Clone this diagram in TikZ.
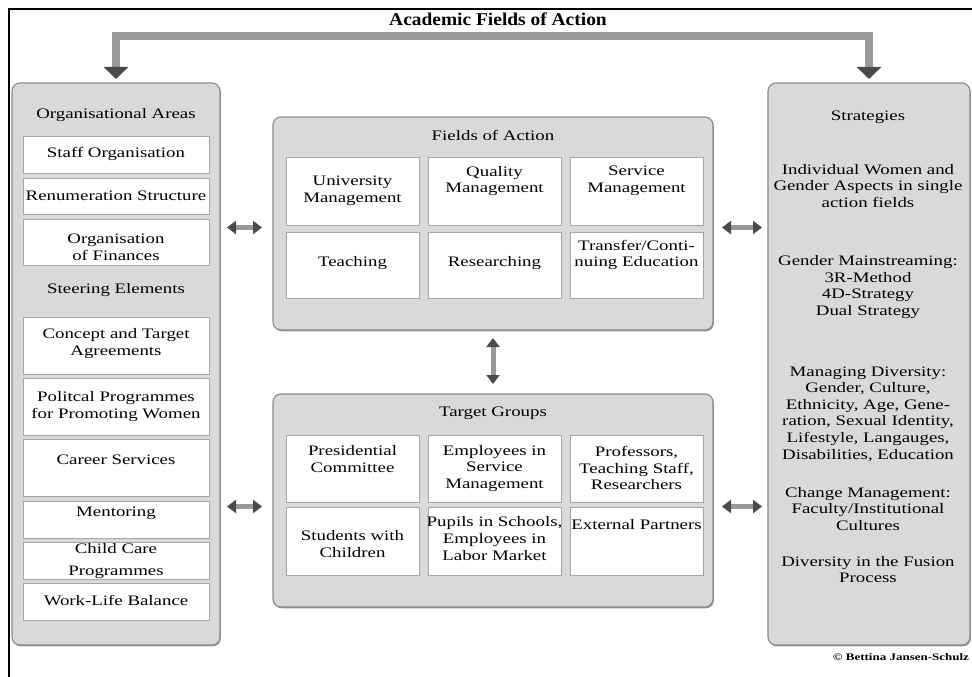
\documentclass[tikz,border=0pt]{standalone}
\usepackage{fontspec}
\setmainfont{Liberation Serif}[FakeStretch=1.3]
\newfontfamily\titlefont{Liberation Serif}[FakeStretch=1.08]
\usetikzlibrary{arrows.meta,shadows}
\definecolor{panelfill}{HTML}{D9D9D9}
\definecolor{paneldraw}{HTML}{8A8A8A}
\definecolor{boxdraw}{HTML}{A6A6A6}
\definecolor{shaft}{HTML}{999999}
\definecolor{head}{HTML}{4A4A4A}
\begin{document}
\begin{tikzpicture}[x=1pt,y=-1pt,
  every node/.style={inner sep=0pt, outer sep=0pt},
  txt/.style={font=\fontsize{14.5}{16.6}\selectfont, align=center, text=black},
  panel/.style={draw=paneldraw, fill=panelfill, rounded corners=8pt, line width=1.1pt, anchor=north west,
    drop shadow={shadow xshift=0.8pt, shadow yshift=-1.3pt, opacity=0.7, fill=black!60}},
  boxn/.style={draw=boxdraw, fill=white, line width=0.8pt, anchor=north west},
  dbl/.style={line width=5pt, draw=shaft,
    arrows={Triangle[width=13pt,length=9pt,color=head]-Triangle[width=13pt,length=9pt,color=head]}},
  bracket/.style={line width=8pt, draw=shaft, line join=miter,
    arrows={Triangle[width=24pt,length=12pt,color=head]-Triangle[width=24pt,length=12pt,color=head]}}]
\useasboundingbox (0,0) rectangle (972,677);
\fill[white] (0,0) rectangle (972,677);
\draw[line width=1.5pt] (9,677) -- (9,9) -- (972,9);

\node[font=\titlefont\bfseries\fontsize{18}{21}\selectfont] (title) at (498,19) {Academic Fields of Action};

% panels
\node[panel, minimum width=208pt, minimum height=562pt] (lp) at (12,83) {};
\node[panel, minimum width=202pt, minimum height=562pt] (rp) at (768,83) {};
\node[panel, minimum width=440pt, minimum height=213pt] (fa) at (273,117) {};
\node[panel, minimum width=440pt, minimum height=213pt] (tg) at (273,394) {};

% top bracket
\coordinate (barmid) at (493,36);
\draw[bracket] ([yshift=4pt]lp.north) |- (barmid) -| ([yshift=4pt]rp.north);

% left panel
\node[txt] (oa) at (116,115) {Organisational Areas};
\node[boxn, minimum width=186pt, minimum height=37pt] (b1) at (23,136) {};
\node[txt] (t1) at (116,154) {Staff Organisation};
\node[boxn, minimum width=186pt, minimum height=36pt] (b2) at (23,178) {};
\node[txt] (t2) at (116,196) {Renumeration Structure};
\node[boxn, minimum width=186pt, minimum height=46pt] (b3) at (23,219) {};
\node[txt] (t3) at (116,247.5) {Organisation\\of Finances};
\node[txt] (se) at (116,290) {Steering Elements};
\node[boxn, minimum width=186pt, minimum height=57pt] (b4) at (23,317) {};
\node[txt] (t4) at (116,343.5) {Concept and Target\\Agreements};
\node[boxn, minimum width=186pt, minimum height=57pt] (b5) at (23,378) {};
\node[txt] (t5) at (116,406.5) {Politcal Programmes\\for Promoting Women};
\node[boxn, minimum width=186pt, minimum height=57pt] (b6) at (23,439) {};
\node[txt] (t6) at (116,460) {Career Services};
\node[boxn, minimum width=186pt, minimum height=37pt] (b7) at (23,501) {};
\node[txt] (t7) at (116,513) {Mentoring};
\node[boxn, minimum width=186pt, minimum height=37pt] (b8) at (23,542) {};
\node[txt] (t8) at (116,561) {Child Care\\[5pt]Programmes};
\node[boxn, minimum width=186pt, minimum height=37pt] (b9) at (23,583) {};
\node[txt] (t9) at (116,600) {Work-Life Balance};

% fields of action
\node[txt] (fat) at (493,135) {Fields of Action};
\node[boxn, minimum width=133pt, minimum height=68pt] (f11) at (286,157) {};
\node[boxn, minimum width=133pt, minimum height=68pt] (f12) at (428,157) {};
\node[boxn, minimum width=133pt, minimum height=68pt] (f13) at (570,157) {};
\node[boxn, minimum width=133pt, minimum height=66pt] (f21) at (286,232) {};
\node[boxn, minimum width=133pt, minimum height=66pt] (f22) at (428,232) {};
\node[boxn, minimum width=133pt, minimum height=66pt] (f23) at (570,232) {};
\node[txt] (tf11) at (352.5,191) {University\\Management};
\node[txt] (tf12) at (494.5,181) {Quality\\Management};
\node[txt] (tf13) at (636.5,181) {Service\\Management};
\node[txt] (tf21) at (352.5,263) {Teaching};
\node[txt] (tf22) at (494.5,263) {Researching};
\node[txt] (tf23) at (636.5,255) {Transfer/Conti-\\nuing Education};

% target groups
\node[txt] (tgt) at (493,413) {Target Groups};
\node[boxn, minimum width=133pt, minimum height=67pt] (g11) at (286,435) {};
\node[boxn, minimum width=133pt, minimum height=67pt] (g12) at (428,435) {};
\node[boxn, minimum width=133pt, minimum height=67pt] (g13) at (570,435) {};
\node[boxn, minimum width=133pt, minimum height=68pt] (g21) at (286,507) {};
\node[boxn, minimum width=133pt, minimum height=68pt] (g22) at (428,507) {};
\node[boxn, minimum width=133pt, minimum height=68pt] (g23) at (570,507) {};
\node[txt] (tg11) at (352.5,459) {Presidential\\Committee};
\node[txt] (tg12) at (494.5,468.5) {Employees in\\Service\\Management};
\node[txt] (tg13) at (636.5,468) {Professors,\\Teaching Staff,\\Researchers};
\node[txt] (tg21) at (352.5,544) {Students with\\Children};
\node[txt] (tg22) at (494.5,538.5) {Pupils in Schools,\\Employees in\\Labor Market};
\node[txt] (tg23) at (636.5,525) {External Partners};

% strategies
\node[txt] (st) at (868,117) {Strategies};
\node[txt] (s1) at (868,186) {Individual Women and\\Gender Aspects in single\\action fields};
\node[txt] (s2) at (868,287) {Gender Mainstreaming:\\3R-Method\\4D-Strategy\\Dual Strategy};
\node[txt] (s3) at (868,414) {Managing Diversity:\\Gender, Culture,\\Ethnicity, Age, Gene-\\ration, Sexual Identity,\\Lifestyle, Langauges,\\Disabilities, Education};
\node[txt] (s4) at (868,509) {Change Management:\\Faculty/Institutional\\Cultures};
\node[txt] (s5) at (868,569.5) {Diversity in the Fusion\\Process};

% double arrows
\coordinate (faw) at ([yshift=-4pt]fa.west);
\coordinate (fae) at ([yshift=-4pt]fa.east);
\coordinate (tgw) at ([yshift=-6pt]tg.west);
\coordinate (tge) at ([yshift=-6pt]tg.east);
\draw[dbl, shorten <=7pt, shorten >=11pt] (lp.east |- faw) -- (faw);
\draw[dbl, shorten <=9pt, shorten >=6pt] (fae) -- (rp.west |- fae);
\draw[dbl, shorten <=7pt, shorten >=11pt] (lp.east |- tgw) -- (tgw);
\draw[dbl, shorten <=9pt, shorten >=6pt] (tge) -- (rp.west |- tge);
\draw[dbl, shorten <=8pt, shorten >=10pt] (fa.south) -- (tg.north);

% copyright
\node[anchor=east, font=\bfseries\fontsize{10}{12}\selectfont] (copy) at (969,657) {\copyright\ Bettina Jansen-Schulz};
\end{tikzpicture}
\end{document}
